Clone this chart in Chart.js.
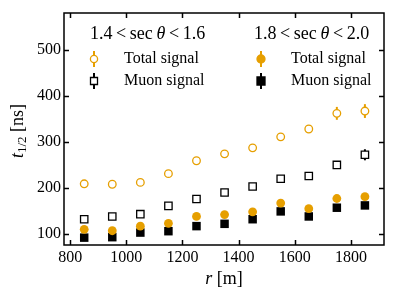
<!DOCTYPE html>
<html>
<head>
<meta charset="utf-8">
<script src="https://cdn.jsdelivr.net/npm/chart.js@4"></script>
<style>
  html, body { margin: 0; padding: 0; background: #fff; }
  #wrap { width: 398px; height: 302px; }
</style>
</head>
<body>
<div id="wrap"><canvas id="chart" width="398" height="302"></canvas></div>
<script>
// distances r [m]
const r = [850, 950, 1050, 1150, 1250, 1350, 1450, 1550, 1650, 1750, 1850];

// 1.4 < sec theta < 1.6
const total14 = [209, 208, 212, 231, 259, 274, 287, 311, 328, 362, 367];
const total14Err = [5, 5, 5, 6, 6, 7, 7, 7, 8, 14, 15];
const muon14 = [132, 138, 143, 161, 176, 190, 203, 220, 226, 250, 272];
const muon14Err = [3, 3, 3, 4, 4, 5, 5, 6, 6, 7, 12];

// 1.8 < sec theta < 2.0
const total18 = [110, 107, 117, 123, 138, 142, 148, 167, 155, 177, 181];
const total18Err = [3, 3, 3, 3, 4, 4, 4, 5, 5, 6, 7];
const muon18 = [92, 93, 103, 106, 117, 122, 132, 149, 138, 157, 162];
const muon18Err = [2, 2, 2, 3, 3, 3, 3, 4, 4, 5, 6];

const xTicks = [800, 1000, 1200, 1400, 1600, 1800];
const yTicks = [100, 200, 300, 400, 500];

const orange = '#E69F00';
const black = '#000000';
const serif = "'Liberation Serif', 'DejaVu Serif', serif";

function pts(ys) {
    return r.map((x, i) => ({ x: x, y: ys[i] }));
}

// vertical error bars, drawn under the markers
const errorBars = {
    id: 'errorBars',
    beforeDatasetsDraw(chart) {
        const ctx = chart.ctx;
        const yScale = chart.scales.y;
        chart.data.datasets.forEach((ds, di) => {
            const meta = chart.getDatasetMeta(di);
            ctx.save();
            ctx.strokeStyle = ds.borderColor;
            ctx.lineWidth = 2;
            meta.data.forEach((p, i) => {
                const v = ds.data[i].y, e = ds.errors[i];
                ctx.beginPath();
                ctx.moveTo(p.x, yScale.getPixelForValue(v - e));
                ctx.lineTo(p.x, yScale.getPixelForValue(v + e));
                ctx.stroke();
            });
            ctx.restore();
        });
    }
};

// box frame with inward ticks on all four sides, axis titles and legends
const frame = {
    id: 'frame',
    afterDraw(chart) {
        const ctx = chart.ctx;
        const a = chart.chartArea;
        const xs = chart.scales.x, ys = chart.scales.y;
        ctx.save();
        ctx.strokeStyle = '#000';
        ctx.lineWidth = 1.5;
        ctx.strokeRect(a.left, a.top, a.right - a.left, a.bottom - a.top);
        ctx.beginPath();
        xTicks.forEach(v => {
            const px = Math.round(xs.getPixelForValue(v)) + 0.5;
            ctx.moveTo(px, a.bottom); ctx.lineTo(px, a.bottom - 5);
            ctx.moveTo(px, a.top); ctx.lineTo(px, a.top + 5);
        });
        yTicks.forEach(v => {
            const py = Math.round(ys.getPixelForValue(v)) + 0.5;
            ctx.moveTo(a.left, py); ctx.lineTo(a.left + 5, py);
            ctx.moveTo(a.right, py); ctx.lineTo(a.right - 5, py);
        });
        ctx.stroke();

        ctx.fillStyle = '#000';
        ctx.textBaseline = 'middle';

        // x title: r [m]
        ctx.font = 'italic 18px ' + serif;
        const rw = ctx.measureText('r').width;
        ctx.font = '18px ' + serif;
        const mw = ctx.measureText(' [m]').width;
        let x0 = (a.left + a.right) / 2 - (rw + mw) / 2;
        ctx.textAlign = 'left';
        ctx.font = 'italic 18px ' + serif;
        ctx.fillText('r', x0, 279);
        ctx.font = '18px ' + serif;
        ctx.fillText(' [m]', x0 + rw, 279);

        // y title: t_{1/2} [ns]
        ctx.save();
        ctx.translate(18, (a.top + a.bottom) / 2 + 2);
        ctx.rotate(-Math.PI / 2);
        ctx.font = 'italic 18px ' + serif;
        const tw = ctx.measureText('t').width;
        ctx.font = '13px ' + serif;
        const sw = ctx.measureText('1/2').width;
        ctx.font = '18px ' + serif;
        const nw = ctx.measureText(' [ns]').width;
        let yx = -(tw + sw + nw) / 2;
        ctx.font = 'italic 18px ' + serif;
        ctx.fillText('t', yx, 0);
        ctx.font = '13px ' + serif;
        ctx.fillText('1/2', yx + tw, 5);
        ctx.font = '18px ' + serif;
        ctx.fillText(' [ns]', yx + tw + sw, 0);
        ctx.restore();

        // legend titles
        drawRange(ctx, 90, 34, '1.4', '1.6');
        drawRange(ctx, 254, 34, '1.8', '2.0');

        // legend entries
        legendEntry(ctx, 94, 59, 'circle', orange, false, 'Total signal');
        legendEntry(ctx, 94, 81, 'rect', black, false, 'Muon signal');
        legendEntry(ctx, 261, 59, 'circle', orange, true, 'Total signal');
        legendEntry(ctx, 261, 81, 'rect', black, true, 'Muon signal');
        ctx.restore();
    }
};

function drawRange(ctx, x, y, lo, hi) {
    const parts = [
        [lo, '18px '], ['\u2009<\u2009', '18px '], ['sec', '18px '],
        ['\u2009\u03B8', 'italic 18px '], ['\u2009<\u2009', '18px '], [hi, '18px ']
    ];
    ctx.textAlign = 'left';
    parts.forEach(([t, f]) => {
        ctx.font = f + serif;
        ctx.fillText(t, x, y);
        x += ctx.measureText(t).width;
    });
}

function legendEntry(ctx, x, y, shape, color, filled, label) {
    ctx.save();
    ctx.strokeStyle = color;
    ctx.lineWidth = 2;
    ctx.beginPath();
    ctx.moveTo(x, y - 8); ctx.lineTo(x, y + 8);
    ctx.stroke();
    ctx.lineWidth = 1.3;
    ctx.fillStyle = filled ? color : '#fff';
    ctx.beginPath();
    if (shape === 'circle') {
        ctx.arc(x, y, filled ? 4 : 3.6, 0, Math.PI * 2);
    } else {
        const s = filled ? 4 : 3.5;
        ctx.rect(x - s, y - s, 2 * s, 2 * s);
    }
    ctx.fill();
    ctx.stroke();
    ctx.restore();
    ctx.fillStyle = '#000';
    ctx.font = '16px ' + serif;
    ctx.textAlign = 'left';
    ctx.fillText(label, x + 30, y);
}

new Chart(document.getElementById('chart'), {
    type: 'scatter',
    data: {
        datasets: [
            {
                label: 'Total signal 1.4-1.6', data: pts(total14), errors: total14Err,
                pointStyle: 'circle', pointRadius: 3.8, borderWidth: 1.3,
                borderColor: orange, backgroundColor: '#fff'
            },
            {
                label: 'Muon signal 1.4-1.6', data: pts(muon14), errors: muon14Err,
                pointStyle: 'rect', pointRadius: 5.2, borderWidth: 1.3,
                borderColor: black, backgroundColor: '#fff'
            },
            {
                label: 'Total signal 1.8-2.0', data: pts(total18), errors: total18Err,
                pointStyle: 'circle', pointRadius: 4.4, borderWidth: 0,
                borderColor: orange, backgroundColor: orange
            },
            {
                label: 'Muon signal 1.8-2.0', data: pts(muon18), errors: muon18Err,
                pointStyle: 'rect', pointRadius: 6, borderWidth: 0,
                borderColor: black, backgroundColor: black
            }
        ]
    },
    options: {
        responsive: false,
        animation: false,
        events: [],
        layout: { padding: { top: 13, right: 14, left: 0, bottom: 0 } },
        plugins: { legend: { display: false }, tooltip: { enabled: false } },
        scales: {
            x: {
                type: 'linear', min: 778, max: 1918,
                grid: { display: false, drawTicks: false }, border: { display: false },
                afterBuildTicks: axis => { axis.ticks = xTicks.map(v => ({ value: v })); },
                afterFit: axis => { axis.height = 57; },
                ticks: {
                    color: '#000', padding: 3, maxRotation: 0,
                    font: { family: serif, size: 16 },
                    callback: v => String(v)
                }
            },
            y: {
                type: 'linear', min: 76, max: 580,
                grid: { display: false, drawTicks: false }, border: { display: false },
                afterBuildTicks: axis => { axis.ticks = yTicks.map(v => ({ value: v })); },
                afterFit: axis => { axis.width = 64; },
                ticks: {
                    color: '#000', padding: 3,
                    font: { family: serif, size: 16 },
                    callback: v => String(v)
                }
            }
        }
    },
    plugins: [errorBars, frame]
});
</script>
</body>
</html>
